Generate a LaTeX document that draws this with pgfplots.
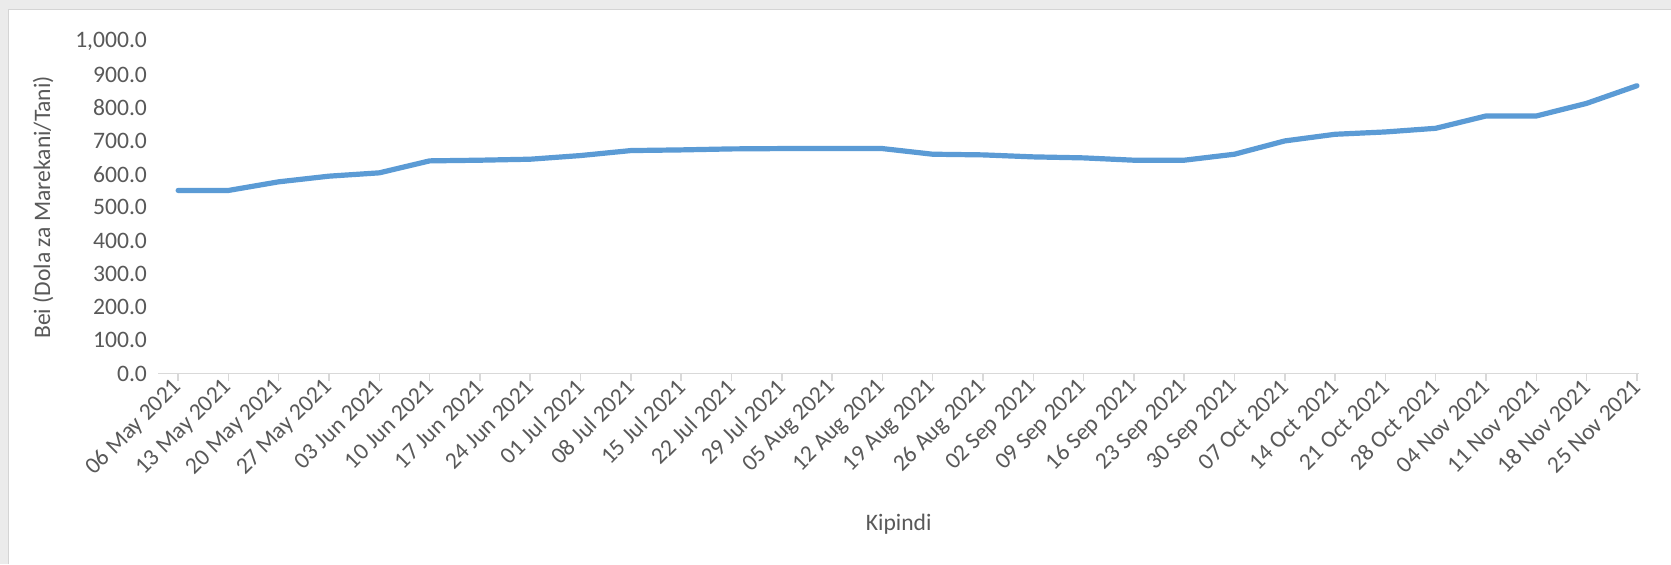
\documentclass[border=0pt]{standalone}
\usepackage{pgfplots}
\pgfplotsset{compat=1.18}
\usepackage{fontspec}
\setmainfont{Carlito}

\definecolor{linec}{HTML}{5B9BD5}
\definecolor{txt}{HTML}{595959}
\definecolor{axc}{HTML}{D9D9D9}
\definecolor{band}{HTML}{EBEBEB}
\definecolor{bandedge}{HTML}{D4D4D4}

\begin{document}
\begin{tikzpicture}
\useasboundingbox (0,0) rectangle (835.5pt,282pt);
\fill[white] (0,0) rectangle (835.5pt,282pt);
\fill[band] (0,277pt) rectangle (835.5pt,282pt);
\fill[band] (0,0) rectangle (4pt,282pt);
\draw[bandedge, line width=0.5pt] (4pt,0) -- (4pt,277pt) -- (835.5pt,277pt);
\begin{axis}[
  at={(79pt,95.2pt)}, anchor=south west,
  scale only axis, width=740.7pt, height=166.2pt,
  xmin=-0.4, xmax=29.05, ymin=0, ymax=1000,
  axis lines=left, axis line style={-},
  x axis line style={draw=axc, line width=0.75pt},
  y axis line style={draw=none},
  ytick={0,100,...,1000},
  xtick={0,...,29},
  xticklabels={06 May 2021,13 May 2021,20 May 2021,27 May 2021,03 Jun 2021,10 Jun 2021,17 Jun 2021,24 Jun 2021,01 Jul 2021,08 Jul 2021,15 Jul 2021,22 Jul 2021,29 Jul 2021,05 Aug 2021,12 Aug 2021,19 Aug 2021,26 Aug 2021,02 Sep 2021,09 Sep 2021,16 Sep 2021,23 Sep 2021,30 Sep 2021,07 Oct 2021,14 Oct 2021,21 Oct 2021,28 Oct 2021,04 Nov 2021,11 Nov 2021,18 Nov 2021,25 Nov 2021},
  tick align=outside, major tick length=3.5pt,
  x tick style={draw=axc, line width=0.75pt},
  y tick style={draw=none},
  font=\fontsize{11.8}{14}\selectfont,
  tick label style={text=txt},
  /pgf/number format/assume math mode=true,
  yticklabel={\pgfmathprintnumber[fixed,fixed zerofill,precision=1,1000 sep={,}]{\tick}},
  yticklabel style={anchor=east, xshift=1.5pt},
  xticklabel style={rotate=45, anchor=east, inner sep=1pt, yshift=-1pt},
  xlabel={Kipindi}, ylabel={Bei (Dola za Marekani/Tani)},
  label style={text=txt},
  xlabel style={at={(axis description cs:0.5,0)}, anchor=center, yshift=-75.5pt},
  ylabel style={at={(axis description cs:-0.0776,0.5)}, anchor=center},
]
\addplot[color=linec, line width=2.6pt, line join=round, line cap=round] coordinates {
  (0,551)(1,551)(2,577)(3,594)(4,604)(5,640)(6,642)(7,645)(8,656)(9,671)
  (10,673)(11,676)(12,677)(13,677)(14,677)(15,660)(16,658)(17,652)(18,649)(19,642)
  (20,642)(21,660)(22,700)(23,720)(24,727)(25,738)(26,775)(27,775)(28,813)(29,866)
};
\end{axis}
\end{tikzpicture}
\end{document}
